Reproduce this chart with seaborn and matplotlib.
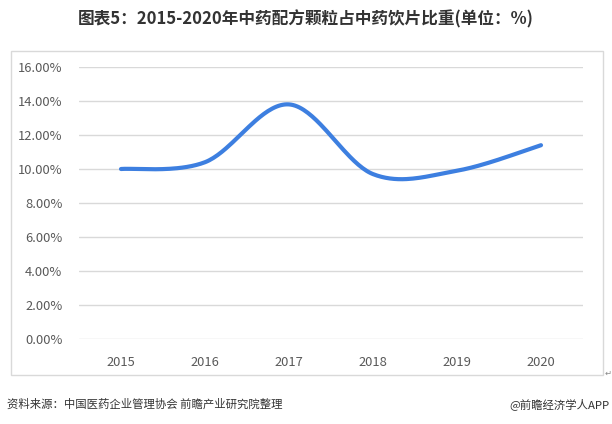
import numpy as np
import pandas as pd
import matplotlib
matplotlib.use("Agg")
import matplotlib.pyplot as plt
import seaborn as sns
from matplotlib.patches import Rectangle

years = ["2015", "2016", "2017", "2018", "2019", "2020"]
share = [10.0, 10.4, 13.8, 9.7, 9.9, 11.4]
yticks = [0, 2, 4, 6, 8, 10, 12, 14, 16]

title = "图表5：2015-2020年中药配方颗粒占中药饮片比重(单位：%)"
source = "资料来源：中国医药企业管理协会 前瞻产业研究院整理"
brand = "@前瞻经济学人APP"

sns.set_theme(style="white")
plt.rcParams['font.family'] = ['Noto Sans CJK SC', 'DejaVu Sans']


def smooth(xs, ys, n=40):
    """Catmull-Rom rendering of the line (like a spreadsheet 'smoothed line')."""
    xs = np.asarray(xs, float)
    ys = np.asarray(ys, float)
    px = np.concatenate([[xs[0]], xs, [xs[-1]]])
    py = np.concatenate([[ys[0]], ys, [ys[-1]]])
    out_x, out_y = [], []
    for i in range(1, len(px) - 2):
        t = np.linspace(0, 1, n, endpoint=(i == len(px) - 3))
        for arr, out in ((px, out_x), (py, out_y)):
            p0, p1, p2, p3 = arr[i - 1], arr[i], arr[i + 1], arr[i + 2]
            m1 = (p2 - p0) / 2
            m2 = (p3 - p1) / 2
            h00 = 2 * t**3 - 3 * t**2 + 1
            h10 = t**3 - 2 * t**2 + t
            h01 = -2 * t**3 + 3 * t**2
            h11 = t**3 - t**2
            out.extend(h00 * p1 + h10 * m1 + h01 * p2 + h11 * m2)
    return np.array(out_x), np.array(out_y)


fig = plt.figure(figsize=(6.12, 4.24), dpi=100)
fig.patch.set_facecolor("white")

# outer frame
fig.patches.append(Rectangle((11 / 612, 1 - 375 / 424), 592 / 612, 324 / 424,
                             transform=fig.transFigure, fill=False,
                             edgecolor="#d9d9d9", linewidth=1.0))

ax = fig.add_axes([79 / 612, 1 - 339 / 424, 504 / 612, 272 / 424])
sx, sy = smooth(range(len(years)), share)
df = pd.DataFrame({"x": sx, "y": sy})
sns.lineplot(data=df, x="x", y="y", ax=ax, color="#3d7fe0", linewidth=3.0,
             solid_capstyle="round", sort=False, estimator=None)

ax.set_xlim(-0.5, len(years) - 0.5)
ax.set_ylim(0, 16)
ax.set_yticks(yticks)
ax.set_yticklabels([f"{v:.2f}%" for v in yticks])
ax.set_xticks(range(len(years)))
ax.set_xticklabels(years)
ax.set_xlabel("")
ax.set_ylabel("")
ax.grid(axis="y", color="#d9d9d9", linewidth=1.0)
ax.grid(axis="x", visible=False)
ax.set_axisbelow(True)
for s in ax.spines.values():
    s.set_visible(False)
ax.tick_params(axis="both", length=0, labelsize=9.3, colors="#595959")
ax.tick_params(axis="y", pad=12)
ax.tick_params(axis="x", pad=12)

fig.text(0.5, 1 - 19 / 424, title, ha="center", va="center",
         fontsize=12, fontweight="bold", color="#333333")
fig.text(7 / 612, 1 - 404 / 424, source, ha="left", va="center",
         fontsize=8.2, color="#333333")
fig.text(610 / 612, 1 - 404 / 424, brand, ha="right", va="center",
         fontsize=8.2, color="#333333")
fig.text(605 / 612, 1 - 373 / 424, "↵", ha="left", va="center",
         fontsize=6, color="#888888", family=["DejaVu Sans"])

fig.savefig("out.png", dpi=100, facecolor="white")
